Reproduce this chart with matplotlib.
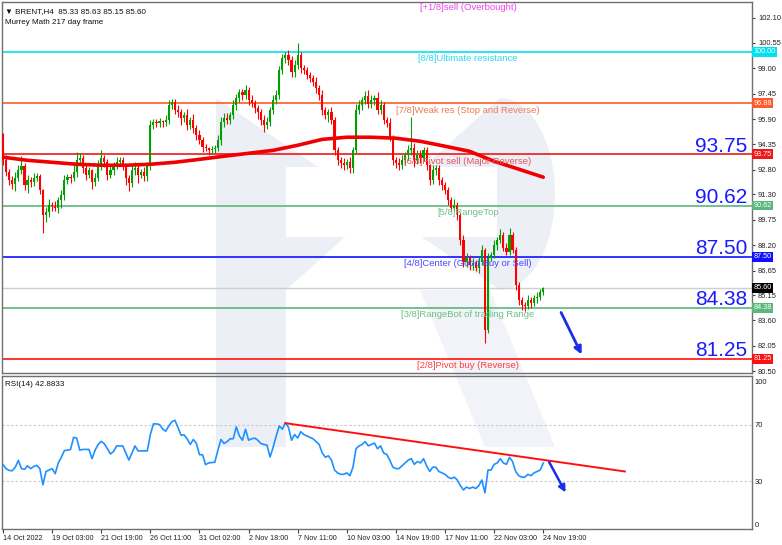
import numpy as np
import matplotlib
matplotlib.use("Agg")
import matplotlib.pyplot as plt
from matplotlib.patches import Polygon
from matplotlib.transforms import blended_transform_factory, offset_copy

plt.rcParams["font.family"] = ["Liberation Sans", "DejaVu Sans"]

# ---------------- data ----------------
first_open = 95.00
closes = [
    93.38, 92.65, 92.16, 91.92, 92.29, 92.77, 93.02, 91.86, 92.16, 92.04,
    92.29, 92.41, 91.55, 90.03, 90.21, 90.64, 90.58, 90.46, 90.94, 91.25,
    92.16, 92.35, 92.29, 92.65, 93.38, 93.51, 92.90, 92.47, 92.77, 92.04,
    92.29, 93.08, 93.51, 93.26, 92.47, 92.77, 93.08, 93.26, 93.38, 93.08,
    92.29, 91.98, 92.77, 92.90, 92.47, 92.65, 92.41, 93.08, 95.52, 95.70,
    95.64, 95.76, 95.70, 95.82, 96.74, 96.92, 96.43, 96.31, 95.95, 96.13,
    95.52, 95.82, 95.34, 94.91, 94.60, 94.18, 94.12, 93.99, 94.05, 94.12,
    94.60, 95.70, 95.95, 95.82, 96.13, 96.74, 97.16, 97.53, 97.35, 97.65,
    97.04, 96.86, 96.55, 96.31, 95.82, 95.52, 95.70, 96.43, 97.04, 97.35,
    98.87, 99.60, 99.79, 99.48, 98.75, 99.18, 99.79, 98.99, 98.87, 98.57,
    98.38, 98.14, 97.77, 97.35, 96.43, 96.13, 96.31, 95.82, 93.99, 93.38,
    93.20, 93.08, 93.26, 92.90, 93.99, 96.43, 96.74, 97.04, 97.29, 96.80,
    97.04, 97.16, 96.43, 96.74, 95.82, 95.64, 94.73, 93.38, 93.20, 93.08,
    93.38, 93.69, 93.99, 94.12, 93.38, 93.69, 93.51, 93.99, 93.08, 92.16,
    92.77, 92.90, 92.16, 91.86, 91.55, 90.94, 90.46, 90.64, 90.03, 88.51,
    87.17, 87.41, 86.98, 87.10, 86.80, 87.17, 87.90, 83.02, 87.41, 87.59,
    88.20, 88.51, 88.81, 88.02, 87.77, 88.81, 87.90, 85.76, 84.85, 84.54,
    84.48, 84.85, 84.67, 84.97, 85.03, 85.33, 85.60,
]
upper_wick = [
    0.05, 0.3, 0.2, 0.25, 0.4, 0.3, 0.6, 0.2, 0.3, 0.2,
    0.3, 0.2, 0.15, 0.1, 0.3, 0.4, 0.2, 0.3, 0.2, 0.3,
    0.3, 0.2, 0.2, 0.6, 0.5, 0.3, 0.2, 0.3, 0.2, 0.1,
    0.3, 0.3, 0.5, 0.2, 0.2, 0.3, 0.2, 0.3, 0.2, 0.2,
    0.1, 0.2, 0.3, 0.4, 0.2, 0.2, 0.3, 0.2, 0.3, 0.2,
    0.2, 0.2, 0.1, 0.3, 0.3, 0.2, 0.2, 0.3, 0.2, 0.2,
    0.4, 0.2, 0.4, 0.2, 0.3, 0.2, 0.2, 0.1, 0.2, 0.2,
    0.3, 0.3, 0.3, 0.3, 0.2, 0.3, 0.3, 0.2, 0.2, 0.3,
    0.2, 0.3, 0.2, 0.2, 0.2, 0.3, 0.3, 0.2, 0.3, 0.3,
    0.3, 0.3, 0.2, 0.3, 0.3, 0.3, 0.73, 0.2, 0.2, 0.2,
    0.2, 0.2, 0.3, 0.2, 0.3, 0.2, 0.2, 0.3, 0.2, 0.2,
    0.2, 0.3, 0.2, 0.3, 0.2, 0.4, 0.3, 0.2, 0.3, 0.4,
    0.3, 0.2, 0.4, 0.3, 0.2, 0.2, 0.3, 0.2, 0.2, 0.3,
    0.3, 0.2, 0.3, 1.9, 0.3, 0.3, 0.3, 0.2, 0.2, 0.1,
    0.3, 0.2, 0.2, 0.2, 0.2, 0.2, 0.2, 0.4, 0.2, 0.2,
    0.3, 0.3, 0.2, 0.3, 0.2, 0.3, 0.3, 0.1, 0.3, 0.2,
    0.3, 0.2, 0.4, 0.2, 0.3, 0.43, 0.2, 0.2, 0.2, 0.2,
    0.2, 0.3, 0.2, 0.2, 0.3, 0.2, 0.03,
]
lower_wick = [
    0.3, 0.2, 0.3, 0.3, 0.4, 0.2, 0.2, 0.3, 0.5, 0.3,
    0.2, 0.2, 0.2, 1.1, 0.4, 0.3, 0.3, 0.2, 0.3, 0.5,
    0.3, 0.2, 0.3, 0.2, 0.3, 0.2, 0.3, 0.3, 0.2, 0.4,
    0.2, 0.2, 0.3, 0.3, 0.3, 0.2, 0.3, 0.2, 0.2, 0.3,
    0.4, 0.5, 0.2, 0.3, 0.5, 0.2, 0.3, 0.3, 0.3, 0.2,
    0.2, 0.2, 0.3, 0.2, 0.2, 0.2, 0.2, 0.3, 0.4, 0.2,
    0.3, 0.2, 0.3, 0.3, 0.2, 0.3, 0.2, 0.3, 0.2, 0.2,
    0.2, 0.3, 0.3, 0.2, 0.2, 0.2, 0.3, 0.2, 0.3, 0.2,
    0.3, 0.2, 0.3, 0.4, 0.3, 0.4, 0.2, 0.2, 0.2, 0.2,
    0.2, 0.2, 0.3, 0.3, 0.3, 0.3, 0.2, 0.3, 0.2, 0.2,
    0.2, 0.2, 0.3, 0.3, 0.3, 0.2, 0.4, 0.2, 0.3, 0.3,
    0.3, 0.3, 0.2, 0.3, 0.3, 0.2, 0.2, 0.3, 0.2, 0.2,
    0.2, 0.3, 0.2, 0.2, 0.2, 0.2, 0.2, 0.3, 0.3, 0.3,
    0.2, 0.2, 0.3, 0.3, 0.4, 0.2, 0.3, 0.2, 0.3, 0.3,
    0.2, 0.3, 0.3, 0.3, 0.2, 0.3, 0.2, 0.2, 0.3, 0.3,
    0.3, 0.3, 0.3, 0.3, 0.2, 0.3, 0.2, 0.8, 0.2, 0.2,
    0.2, 0.3, 0.2, 0.2, 0.2, 0.2, 0.2, 0.3, 0.3, 0.3,
    0.3, 0.2, 0.3, 0.2, 0.3, 0.18, 0.2,
]
ma_step = 8
ma_values = [93.57, 93.38, 93.26, 93.14, 93.08, 93.08, 93.14, 93.26, 93.44, 93.63,
             93.81, 93.99, 94.30, 94.66, 94.79, 94.79, 94.73, 94.54, 94.24, 93.93,
             93.32, 92.84, 92.35]
rsi = [
    41.8, 39.0, 37.7, 37.5, 40.0, 44.8, 39.0, 38.5, 41.0, 39.0,
    40.5, 41.3, 39.0, 27.6, 37.0, 38.0, 39.0, 35.4, 43.0, 47.0,
    51.7, 52.0, 52.5, 61.0, 60.5, 52.0, 52.5, 52.5, 52.5, 46.0,
    52.0, 56.0, 58.2, 56.5, 53.0, 49.3, 51.0, 55.0, 55.0, 55.0,
    50.0, 45.0, 50.0, 55.0, 51.5, 51.5, 51.5, 51.5, 63.0, 70.5,
    70.5, 70.0, 67.0, 65.3, 69.0, 72.0, 73.0, 68.0, 62.5, 62.7,
    60.0, 56.0, 59.5, 56.7, 48.8, 48.8, 41.8, 43.0, 43.3, 43.5,
    52.0, 59.5, 56.7, 58.0, 60.0, 60.0, 68.4, 62.0, 59.0, 66.7,
    59.0, 60.0, 60.5, 59.0, 56.7, 56.0, 55.5, 47.2, 54.0, 62.0,
    69.0, 66.7, 71.4, 68.0, 59.0, 63.0, 60.5, 65.0, 63.0, 62.0,
    61.0, 60.0, 58.0, 56.0, 50.0, 47.0, 48.0, 45.0, 38.0, 36.0,
    35.0, 35.0, 36.0, 34.0, 40.0, 53.0, 55.0, 56.0, 58.0, 55.0,
    56.0, 57.0, 53.0, 55.0, 50.0, 49.0, 45.0, 40.0, 39.0, 39.0,
    41.0, 43.0, 45.0, 46.0, 42.0, 44.0, 43.0, 46.0, 41.0, 37.0,
    40.0, 40.0, 37.0, 36.0, 35.0, 33.0, 32.0, 33.0, 31.0, 27.0,
    24.0, 26.0, 25.0, 26.0, 25.0, 27.0, 31.0, 22.0, 38.0, 38.0,
    42.0, 43.0, 46.0, 43.0, 42.0, 47.0, 44.0, 37.0, 34.0, 33.0,
    33.0, 35.0, 34.0, 36.0, 37.0, 38.0, 42.88,
]
price_ticks = [80.50, 82.05, 83.60, 85.15, 86.65, 88.20, 89.75, 91.30,
               92.80, 94.35, 95.90, 97.45, 99.00, 100.55, 102.10]
date_labels = ["14 Oct 2022", "19 Oct 03:00", "21 Oct 19:00", "26 Oct 11:00",
               "31 Oct 02:00", "2 Nov 18:00", "7 Nov 11:00", "10 Nov 03:00",
               "14 Nov 19:00", "17 Nov 11:00", "22 Nov 03:00", "24 Nov 19:00"]
date_step = 16
levels = [103.125, 100.00, 96.88, 93.75, 90.62, 87.50, 84.38, 81.25]
level_names = ["[+1/8]sell (Overbought)", "[8/8]Ultimate resistance",
               "[7/8]Weak res (Stop and Reverse)", "[6/8]Pivot sell (Major Reverse)",
               "[5/8]RangeTop", "[4/8]Center (Good Buy or Sell)",
               "[3/8]RangeBot of trading Range", "[2/8]Pivot buy (Reverse)"]
level_colors = ["#FF00FF", "#00E0F0", "#FF5A28", "#F01818", "#5CB87A",
                "#1010FF", "#5CB87A", "#FF1010"]
level_text_colors = ["#F040F0", "#30D8EE", "#F07858", "#E8505A", "#6CC088",
                     "#4848FF", "#6CC088", "#FF4040"]
big_levels = [93.75, 90.62, 87.50, 84.38, 81.25]
last_price = 85.60
rsi_trend_x = [92, 202.6]
rsi_trend_y = [71.0, 37.0]
price_arrow = [(181.4, 84.24), (188.9, 81.37)]
rsi_arrow = [(177.5, 45.3), (183.7, 20.5)]

# ---------------- figure ----------------
W, H = 782, 545
fig = plt.figure(figsize=(W / 100, H / 100), dpi=100)
fig.patch.set_facecolor("white")

# watermark layer (decorative "R" logo), pixel coordinates
bg = fig.add_axes([0, 0, 1, 1], zorder=0)
bg.set_xlim(0, W)
bg.set_ylim(H, 0)
bg.axis("off")
wm = "#ECEFF6"
theta = np.linspace(-np.pi / 2, np.pi / 2, 30)
outer = [(216, 98)] + [(500 + 55 * np.cos(t), 194 + 96 * np.sin(t)) for t in -theta] + \
        [(286, 290), (286, 447), (216, 447)]
bg.add_patch(Polygon(outer, closed=True, facecolor=wm, edgecolor="none"))
hole = [(286, 167), (497, 167), (497, 237), (286, 237)]
bg.add_patch(Polygon(hole, closed=True, facecolor="white", edgecolor="none"))
leg = [(420, 290), (490, 290), (555, 447), (485, 447)]
bg.add_patch(Polygon(leg, closed=True, facecolor="#F1F3F8", edgecolor="none"))

L, R = 2, 752
ax = fig.add_axes([L / W, 1 - 373 / H, (R - L) / W, 371 / H], zorder=1)
rx = fig.add_axes([L / W, 1 - 529 / H, (R - L) / W, 153 / H], zorder=1)
for a in (ax, rx):
    a.set_facecolor("none")
    for s in a.spines.values():
        s.set_color("#707070")
        s.set_linewidth(1.0)

n = len(closes)
x = np.arange(n)
c = np.array(closes)
o = np.r_[first_open, c[:-1]]
hi = np.maximum(o, c) + np.array(upper_wick)
lo = np.minimum(o, c) - np.array(lower_wick)
up = c >= o
cols = np.where(up, "#00A000", "#FF0000")
xmin, xmax = -0.33, 244.0

ax.set_xlim(xmin, xmax)
ax.set_ylim(80.39, 103.05)

# murrey levels
for lv, col in zip(levels, level_colors):
    ax.axhline(lv, color=col, lw=1.2, zorder=2)
ax.axhline(last_price, color="#CFCFCF", lw=1.0, zorder=2)

ax.vlines(x, lo, hi, colors=cols, lw=0.8, zorder=3)
body = c - o
body = np.where(np.abs(body) < 0.04, 0.04, body)
ax.bar(x, body, bottom=o, width=0.7, color=cols, linewidth=0, zorder=4)

ma_x = np.arange(0, n, ma_step)
ax.plot(ma_x, ma_values, color="#F00000", lw=2.6, zorder=5, solid_capstyle="round")

# labels for levels
for lv, name, tc in zip(levels, level_names, level_text_colors):
    tr = offset_copy(ax.transData, fig=fig, x=0, y=-2.5, units="dots")
    ax.text(151.5, lv, name, color=tc, fontsize=6.8,
            ha="center", va="top", transform=tr, zorder=6)

bt = blended_transform_factory(ax.transAxes, ax.transData)
for lv in big_levels:
    tr = offset_copy(bt, fig=fig, x=0, y=2.5, units="dots")
    ax.text(0.9935, lv, f"{lv:.2f}", color="#1A1AFF", fontsize=15,
            ha="right", va="baseline", transform=tr, zorder=6)

# right-axis colored boxes
box_levels = levels[1:] + [last_price]
box_colors = level_colors[1:] + ["#000000"]
for lv, bc in zip(box_levels, box_colors):
    ax.text(1.0015, lv, f"{lv:.2f}", color="white", fontsize=5.2,
            ha="left", va="center", transform=bt, zorder=7, clip_on=False,
            bbox=dict(boxstyle="square,pad=0.2", facecolor=bc, edgecolor="none"))

ax.yaxis.tick_right()
ax.set_yticks(price_ticks)
ax.set_yticklabels([f"{t:.2f}" for t in price_ticks])
ax.tick_params(axis="y", direction="out", length=2.5, width=0.8, color="#404040",
               labelsize=5.4, pad=1.8, labelcolor="#202020")
ax.set_xticks([])

# arrows
ax.annotate("", xy=price_arrow[1], xytext=price_arrow[0],
            arrowprops=dict(arrowstyle="-|>", color="#1A2EE8", lw=2.0, mutation_scale=11),
            zorder=8)

# header text
ax.text(0.004, 0.985, "\u25BC BRENT,H4  85.33 85.63 85.15 85.60", transform=ax.transAxes,
        fontsize=5.8, ha="left", va="top", color="#101010")
ax.text(0.004, 0.955, "Murrey Math 217 day frame", transform=ax.transAxes,
        fontsize=5.8, ha="left", va="top", color="#101010")

# ---------------- RSI ----------------
rx.set_xlim(xmin, xmax)
rx.set_ylim(-3.5, 104.2)
for lvl in (70, 30):
    rx.axhline(lvl, color="#C8C8C8", lw=0.8, ls=(0, (2, 2)), zorder=1)
rx.plot(x, rsi, color="#1E90FF", lw=1.2, zorder=3)
rx.plot(rsi_trend_x, rsi_trend_y, color="#FF1010", lw=1.4, zorder=4)
rx.annotate("", xy=rsi_arrow[1], xytext=rsi_arrow[0],
            arrowprops=dict(arrowstyle="-|>", color="#1A2EE8", lw=1.8, mutation_scale=10),
            zorder=8)
rx.text(0.004, 0.965, "RSI(14) 42.8833", transform=rx.transAxes, fontsize=5.8,
        ha="left", va="top", color="#101010")
rx.yaxis.tick_right()
rx.set_yticks([0, 30, 70, 100])
rx.set_yticklabels(["0", "30", "70", "100"])
rx.tick_params(axis="y", length=0, labelsize=5.4, pad=2, labelcolor="#202020")

tick_pos = np.arange(len(date_labels)) * date_step
rx.set_xticks(tick_pos)
rx.set_xticklabels(date_labels, ha="left")
rx.tick_params(axis="x", direction="out", length=3, width=0.8, color="#404040",
               labelsize=5.2, pad=1.5, labelcolor="#202020")

fig.savefig("out.png", dpi=100, facecolor="white")
